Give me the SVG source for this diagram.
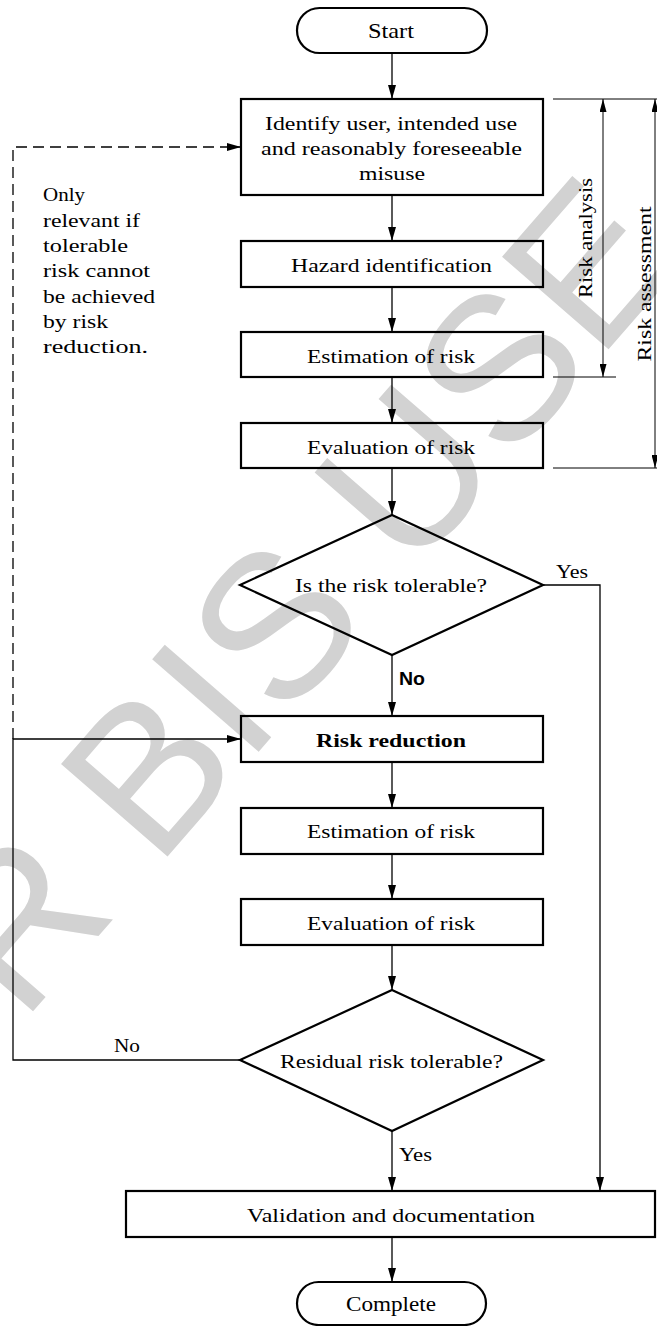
<svg xmlns="http://www.w3.org/2000/svg" width="657" height="1326" viewBox="0 0 657 1326">
<defs>
<style>
.wm{font-family:"Liberation Sans",Arial,sans-serif;font-size:205px;fill:#d2d2d2}
.t{font-family:"Liberation Serif","Times New Roman",serif;font-size:19px;fill:#000}
.tb{font-family:"Liberation Serif","Times New Roman",serif;font-size:19px;font-weight:bold;fill:#000}
.sb{font-family:"Liberation Sans",Arial,sans-serif;font-size:18.5px;font-weight:bold;fill:#000}
.box{fill:none;stroke:#000;stroke-width:2.2}
.ln{fill:none;stroke:#000;stroke-width:1.3}
.dash{fill:none;stroke:#000;stroke-width:1.3;stroke-dasharray:11 6}
.dim{fill:none;stroke:#000;stroke-width:1}
</style>
<marker id="ah" markerUnits="userSpaceOnUse" markerWidth="14" markerHeight="8" refX="14" refY="4" orient="auto">
<path d="M0,0 L14,4 L0,8 z" fill="#000"/>
</marker>
<marker id="dh" markerUnits="userSpaceOnUse" markerWidth="13" markerHeight="7" refX="13" refY="3.5" orient="auto-start-reverse">
<path d="M0,0 L13,3.5 L0,7 z" fill="#000"/>
</marker>
</defs>
<rect width="657" height="1326" fill="#fff"/>
<g id="watermark">
<text class="wm" transform="translate(22,1024) rotate(-49)">R BIS USE</text>
</g>
<g id="connectors">
<line class="ln" x1="392" y1="53" x2="392" y2="99" marker-end="url(#ah)"/>
<line class="ln" x1="392" y1="195" x2="392" y2="241" marker-end="url(#ah)"/>
<line class="ln" x1="392" y1="287" x2="392" y2="332" marker-end="url(#ah)"/>
<line class="ln" x1="392" y1="377" x2="392" y2="423" marker-end="url(#ah)"/>
<line class="ln" x1="392" y1="468" x2="392" y2="515" marker-end="url(#ah)"/>
<line class="ln" x1="392" y1="655" x2="392" y2="716" marker-end="url(#ah)"/>
<line class="ln" x1="392" y1="762" x2="392" y2="808" marker-end="url(#ah)"/>
<line class="ln" x1="392" y1="854" x2="392" y2="899" marker-end="url(#ah)"/>
<line class="ln" x1="392" y1="945" x2="392" y2="990" marker-end="url(#ah)"/>
<line class="ln" x1="392" y1="1131" x2="392" y2="1191" marker-end="url(#ah)"/>
<line class="ln" x1="392" y1="1237" x2="392" y2="1282" marker-end="url(#ah)"/>
<polyline class="ln" points="543,585 600,585 600,1191" marker-end="url(#ah)"/>
<polyline class="ln" points="240,1060 13,1060 13,739 241,739" marker-end="url(#ah)"/>
<polyline class="dash" points="13,739 13,147 241,147" marker-end="url(#ah)"/>
<text class="sb" x="399" y="685" textLength="26" lengthAdjust="spacingAndGlyphs">No</text>
<text class="t" x="556" y="578" textLength="32" lengthAdjust="spacingAndGlyphs">Yes</text>
<text class="t" x="114" y="1052" textLength="26" lengthAdjust="spacingAndGlyphs">No</text>
<text class="t" x="399" y="1161" textLength="33" lengthAdjust="spacingAndGlyphs">Yes</text>
</g>
<g id="dimensions">
<line class="dim" x1="553" y1="99" x2="657" y2="99"/>
<line class="dim" x1="553" y1="377" x2="616" y2="377"/>
<line class="dim" x1="553" y1="468" x2="657" y2="468"/>
<line class="dim" x1="603" y1="99" x2="603" y2="377" marker-start="url(#dh)" marker-end="url(#dh)"/>
<line class="dim" x1="655" y1="99" x2="655" y2="468" marker-start="url(#dh)" marker-end="url(#dh)"/>
<text class="t" transform="translate(592,238) rotate(-90)" text-anchor="middle" textLength="120" lengthAdjust="spacingAndGlyphs">Risk analysis</text>
<text class="t" transform="translate(651,284) rotate(-90)" text-anchor="middle" textLength="155" lengthAdjust="spacingAndGlyphs">Risk assessment</text>
</g>
<g id="note">
<text class="t" x="43" y="201" textLength="42" lengthAdjust="spacingAndGlyphs">Only</text>
<text class="t" x="43" y="226.5" textLength="97" lengthAdjust="spacingAndGlyphs">relevant if</text>
<text class="t" x="43" y="252" textLength="85" lengthAdjust="spacingAndGlyphs">tolerable</text>
<text class="t" x="43" y="277" textLength="107" lengthAdjust="spacingAndGlyphs">risk cannot</text>
<text class="t" x="43" y="302.5" textLength="112" lengthAdjust="spacingAndGlyphs">be achieved</text>
<text class="t" x="43" y="328" textLength="65" lengthAdjust="spacingAndGlyphs">by risk</text>
<text class="t" x="43" y="353" textLength="105" lengthAdjust="spacingAndGlyphs">reduction.</text>
</g>
<g id="start">
<rect class="box" x="297" y="8" width="190" height="45" rx="22.5"/>
<text class="t" x="368" y="38" style="font-size:21px" textLength="46" lengthAdjust="spacingAndGlyphs">Start</text>
</g>
<g id="identify">
<rect class="box" x="241" y="99" width="302" height="96"/>
<text class="t" x="265" y="130" textLength="252" lengthAdjust="spacingAndGlyphs">Identify user, intended use</text>
<text class="t" x="261" y="154.5" textLength="261" lengthAdjust="spacingAndGlyphs">and reasonably foreseeable</text>
<text class="t" x="359" y="180" textLength="66" lengthAdjust="spacingAndGlyphs">misuse</text>
</g>
<g id="hazard">
<rect class="box" x="241" y="241" width="302" height="46"/>
<text class="t" x="291" y="272" textLength="201" lengthAdjust="spacingAndGlyphs">Hazard identification</text>
</g>
<g id="estimation1">
<rect class="box" x="241" y="332" width="302" height="45"/>
<text class="t" x="307" y="363" textLength="168" lengthAdjust="spacingAndGlyphs">Estimation of risk</text>
</g>
<g id="evaluation1">
<rect class="box" x="241" y="423" width="302" height="45"/>
<text class="t" x="307" y="454" textLength="168" lengthAdjust="spacingAndGlyphs">Evaluation of risk</text>
</g>
<g id="decision1">
<polygon class="box" points="392,515 543,585 392,655 240,585"/>
<text class="t" x="295" y="592" textLength="192" lengthAdjust="spacingAndGlyphs">Is the risk tolerable?</text>
</g>
<g id="reduction">
<rect class="box" x="241" y="716" width="302" height="46"/>
<text class="tb" x="316" y="747" textLength="150" lengthAdjust="spacingAndGlyphs">Risk reduction</text>
</g>
<g id="estimation2">
<rect class="box" x="241" y="808" width="302" height="46"/>
<text class="t" x="307" y="838" textLength="168" lengthAdjust="spacingAndGlyphs">Estimation of risk</text>
</g>
<g id="evaluation2">
<rect class="box" x="241" y="899" width="302" height="46"/>
<text class="t" x="307" y="930" textLength="168" lengthAdjust="spacingAndGlyphs">Evaluation of risk</text>
</g>
<g id="decision2">
<polygon class="box" points="392,990 543,1060 392,1131 240,1060"/>
<text class="t" x="280" y="1068" textLength="223" lengthAdjust="spacingAndGlyphs">Residual risk tolerable?</text>
</g>
<g id="validation">
<rect class="box" x="126" y="1191" width="529" height="46"/>
<text class="t" x="247" y="1222" textLength="288" lengthAdjust="spacingAndGlyphs">Validation and documentation</text>
</g>
<g id="complete">
<rect class="box" x="297" y="1282" width="189" height="43" rx="21.5"/>
<text class="t" x="346" y="1311" style="font-size:21px" textLength="90" lengthAdjust="spacingAndGlyphs">Complete</text>
</g>
</svg>
